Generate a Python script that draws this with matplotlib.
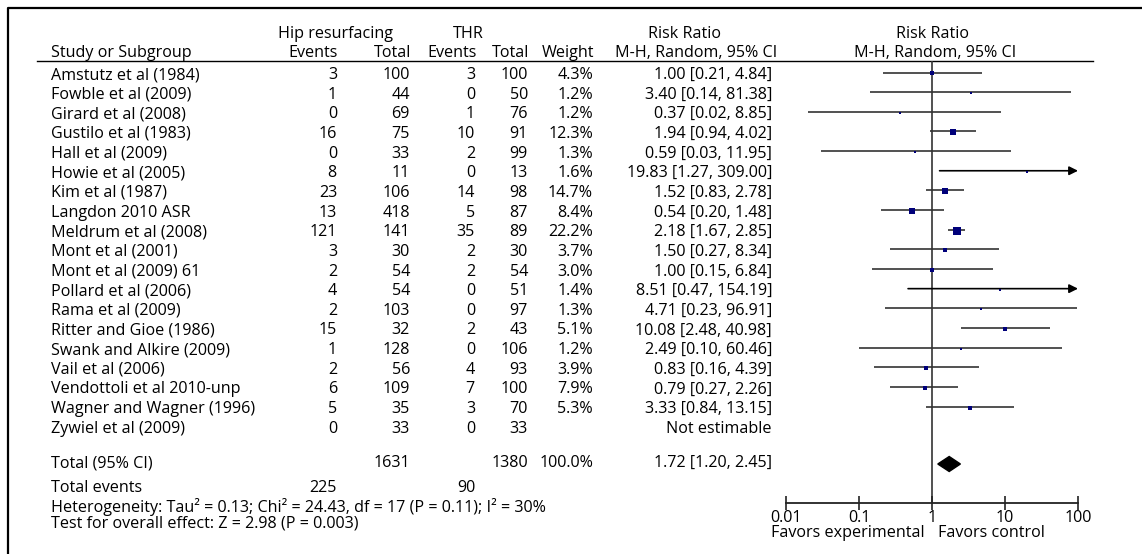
import matplotlib
matplotlib.use("Agg")
import matplotlib.pyplot as plt
import numpy as np

plt.rcParams['font.family'] = ['Open Sans', 'DejaVu Sans']

# ---------------- data ----------------
studies = ["Amstutz et al (1984)", "Fowble et al (2009)", "Girard et al (2008)",
           "Gustilo et al (1983)", "Hall et al (2009)", "Howie et al (2005)",
           "Kim et al (1987)", "Langdon 2010 ASR", "Meldrum et al (2008)",
           "Mont et al (2001)", "Mont et al (2009) 61", "Pollard et al (2006)",
           "Rama et al (2009)", "Ritter and Gioe (1986)", "Swank and Alkire (2009)",
           "Vail et al (2006)", "Vendottoli et al 2010-unp", "Wagner and Wagner (1996)",
           "Zywiel et al (2009)"]
hip_events = [3, 1, 0, 16, 0, 8, 23, 13, 121, 3, 2, 4, 2, 15, 1, 2, 6, 5, 0]
hip_total = [100, 44, 69, 75, 33, 11, 106, 418, 141, 30, 54, 54, 103, 32, 128, 56, 109, 35, 33]
thr_events = [3, 0, 1, 10, 2, 0, 14, 5, 35, 2, 2, 0, 0, 2, 0, 4, 7, 3, 0]
thr_total = [100, 50, 76, 91, 99, 13, 98, 87, 89, 30, 54, 51, 97, 43, 106, 93, 100, 70, 33]
weight = [4.3, 1.2, 1.2, 12.3, 1.3, 1.6, 14.7, 8.4, 22.2, 3.7, 3.0, 1.4, 1.3, 5.1, 1.2, 3.9, 7.9, 5.3, None]
rr = [1.00, 3.40, 0.37, 1.94, 0.59, 19.83, 1.52, 0.54, 2.18, 1.50, 1.00, 8.51, 4.71, 10.08, 2.49, 0.83, 0.79, 3.33, None]
ci_low = [0.21, 0.14, 0.02, 0.94, 0.03, 1.27, 0.83, 0.20, 1.67, 0.27, 0.15, 0.47, 0.23, 2.48, 0.10, 0.16, 0.27, 0.84, None]
ci_high = [4.84, 81.38, 8.85, 4.02, 11.95, 309.00, 2.78, 1.48, 2.85, 8.34, 6.84, 154.19, 96.91, 40.98, 60.46, 4.39, 2.26, 13.15, None]

total_hip = 1631
total_thr = 1380
events_hip = 225
events_thr = 90
pooled_rr = 1.72
pooled_low = 1.20
pooled_high = 2.45
heterogeneity = "Heterogeneity: Tau\u00b2 = 0.13; Chi\u00b2 = 24.43, df = 17 (P = 0.11); I\u00b2 = 30%"
overall = "Test for overall effect: Z = 2.98 (P = 0.003)"
tick_vals = [0.01, 0.1, 1, 10, 100]
tick_labels = ["0.01", "0.1", "1", "10", "100"]

# ---------------- layout ----------------
W, H = 1142, 554
fig = plt.figure(figsize=(W / 100, H / 100), dpi=100)
fig.patch.set_facecolor('white')

bg = fig.add_axes([0, 0, 1, 1])
bg.set_xlim(0, W)
bg.set_ylim(H, 0)
bg.axis('off')

FS = 11.6
row0 = 75.0
dy = 19.65

# frame and header rule
bg.plot([8, 8, W], [H, 7.5, 7.5], color='black', lw=1.6, solid_capstyle='butt')
bg.plot([37, 1093], [61, 61], color='black', lw=1.0)

def t(x, y, s, ha='left'):
    bg.text(x, y, s, ha=ha, va='center', fontsize=FS, color='black')

# headers
t(335, 34, "Hip resurfacing", 'center')
t(468, 34, "THR", 'center')
t(684, 34, "Risk Ratio", 'center')
t(933, 34, "Risk Ratio", 'center')
t(51, 53, "Study or Subgroup")
t(338, 53, "Events", 'right')
t(411, 53, "Total", 'right')
t(477, 53, "Events", 'right')
t(529, 53, "Total", 'right')
t(594, 53, "Weight", 'right')
t(696, 53, "M-H, Random, 95% CI", 'center')
t(935, 53, "M-H, Random, 95% CI", 'center')

# study rows
for i, name in enumerate(studies):
    y = row0 + dy * i
    t(51, y, name)
    t(337, y, str(hip_events[i]), 'right')
    t(410, y, str(hip_total[i]), 'right')
    t(475, y, str(thr_events[i]), 'right')
    t(528, y, str(thr_total[i]), 'right')
    if weight[i] is not None:
        t(593, y, f"{weight[i]:.1f}%", 'right')
        t(772, y, f"{rr[i]:.2f} [{ci_low[i]:.2f}, {ci_high[i]:.2f}]", 'right')
    else:
        t(772, y, "Not estimable", 'right')

# totals
t(51, 463, "Total (95% CI)")
t(410, 463, str(total_hip), 'right')
t(528, 463, str(total_thr), 'right')
t(593, 463, "100.0%", 'right')
t(772, 463, f"{pooled_rr:.2f} [{pooled_low:.2f}, {pooled_high:.2f}]", 'right')
t(51, 488, "Total events")
t(337, 488, str(events_hip), 'right')
t(475, 488, str(events_thr), 'right')
t(51, 507, heterogeneity)
t(51, 524, overall)

t(848, 533, "Favors experimental", 'center')
t(991, 533, "Favors control", 'center')

# ---------------- forest axes ----------------
x0, x1 = 786, 1078
ytop, ybot = 61, 503
line0 = 72.5
ax = fig.add_axes([x0 / W, (H - ybot) / H, (x1 - x0) / W, (ybot - ytop) / H])
ax.set_facecolor('none')
ax.set_xscale('log')
ax.set_xlim(0.01, 100)
ax.set_ylim((ybot - line0) / dy, (ytop - line0) / dy)
for s in ['top', 'left', 'right']:
    ax.spines[s].set_visible(False)
ax.spines['bottom'].set_linewidth(1.3)
ax.spines['bottom'].set_color('#222222')
ax.set_yticks([])
ax.set_xticks(tick_vals)
ax.set_xticklabels(tick_labels)
ax.minorticks_off()
ax.tick_params(axis='x', direction='inout', length=10, width=1.2, color='#222222',
               labelsize=FS, pad=0)

ax.axvline(1, color='#333333', lw=1.2, zorder=1)

for i in range(len(studies)):
    if rr[i] is None:
        continue
    lo, hi = ci_low[i], ci_high[i]
    if hi > 100:
        ax.annotate('', xy=(100, i), xytext=(lo, i),
                    arrowprops=dict(arrowstyle='-|>', color='black', lw=1.2,
                                    mutation_scale=13, shrinkA=0, shrinkB=0),
                    annotation_clip=False)
    else:
        ax.hlines(i, lo, hi, color='#333333', lw=1.2, zorder=2)
    side = max(2.8, 1.75 * np.sqrt(weight[i]))
    ax.plot([rr[i]], [i + 0.05], marker='s', ms=side * 0.72, color='#00007a',
            mec='#00007a', mew=0, zorder=3, linestyle='none')

# pooled diamond
yd = (464 - line0) / dy
hd = 7.5 / dy
ax.fill([pooled_low, pooled_rr, pooled_high, pooled_rr],
        [yd, yd - hd, yd, yd + hd], color='black', zorder=4)

fig.savefig("out.png", dpi=100)
